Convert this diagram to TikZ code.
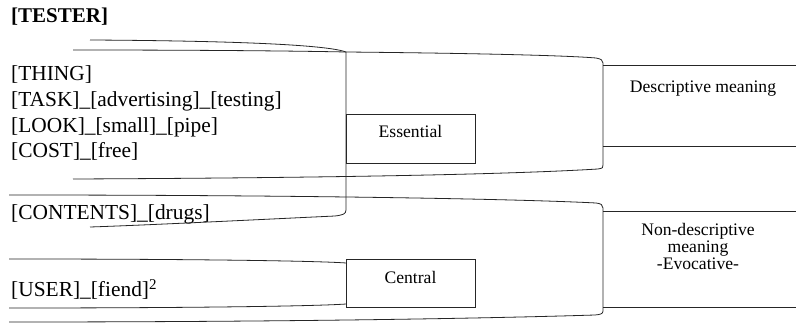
\documentclass[tikz,border=0pt]{standalone}
\usepackage{fontspec}
\setmainfont{Liberation Serif}
\begin{document}
\begin{tikzpicture}[x=1pt,y=-1pt,
  ln/.style={line width=0.8pt, draw=black!85},
  item/.style={anchor=base west, inner sep=0pt, font=\fontsize{21.4}{25}\selectfont},
  boxlbl/.style={anchor=base, inner sep=0pt, font=\fontsize{17.6}{17}\selectfont, align=center},
  sbox/.style={draw=black!85, line width=0.8pt, inner sep=0pt, anchor=north west},
  obox/.style={draw=none, inner sep=0pt, anchor=north west}]
\useasboundingbox (0,0) rectangle (796,323);
\fill[white] (0,0) rectangle (796,323);

% title and items
\node[item, font=\fontsize{21}{25}\selectfont\bfseries] (tester) at (11,23) {[TESTER]};
\node[item] (thing) at (11,81) {[THING]};
\node[item] (task) at (11,107) {[TASK]\_[advertising]\_[testing]};
\node[item] (look) at (11,133) {[LOOK]\_[small]\_[pipe]};
\node[item] (cost) at (11,158) {[COST]\_[free]};
\node[item] (contents) at (11,220) {[CONTENTS]\_[drugs]};
\node[item] (user) at (11,297) {[USER]\_[fiend]\textsuperscript{2}};

% boxes
\node[sbox, minimum width=129pt, minimum height=49pt] (ess) at (346,114) {};
\node[boxlbl] (esst) at (410.5,138) {Essential};
\node[sbox, minimum width=129pt, minimum height=48pt] (cen) at (346,259) {};
\node[boxlbl] (cent) at (410.5,284) {Central};

\node[obox, minimum width=193pt, minimum height=81pt] (desc) at (603,65) {};
\draw[ln] (desc.north west) -- (desc.north east) (desc.south west) -- (desc.south east);
\node[boxlbl] (desct) at (703,93) {Descriptive meaning};

\node[obox, minimum width=193pt, minimum height=96pt] (nond) at (603,211) {};
\draw[ln] (nond.north west) -- (nond.north east) (nond.south west) -- (nond.south east);
\node[boxlbl] (nondt) at (698,270) {Non-descriptive\\meaning\\-Evocative-};

% bracket 1 (to Essential)
\coordinate (a1) at (90,40);
\coordinate (a2) at (73,50);
\coordinate (aj) at (346,52);
\coordinate (ab) at (90,227);
\draw[ln] (a1) .. controls (260,41) and (330,46) .. (aj);
\draw[ln] (a2) .. controls (200,50) and (300,51) .. (aj);
\draw[ln] (aj) -- (346,210) .. controls (346,214) and (343,215) .. (335,216)
   .. controls (250,220) and (150,225) .. (ab);

% bracket 2 (to Descriptive meaning)
\coordinate (b2) at (73,179);
\draw[ln] (aj) .. controls (450,53) and (560,55) .. (596,58)
   .. controls (601,59) and (603,60) .. (603,63) -- (603,165)
   .. controls (603,168) .. (598,169)
   .. controls (500,175) and (300,178) .. (b2);

% bracket 3 (to Non-descriptive meaning)
\coordinate (c1) at (9,195);
\coordinate (c2) at (9,322);
\draw[ln] (c1) .. controls (300,195) and (520,199) .. (596,203)
   .. controls (601,203.5) and (603,205) .. (603,208) -- (603,311)
   .. controls (603,314) and (600,314.5) .. (595,315)
   .. controls (500,318) and (300,322) .. (c2);

% bracket 4 (to Central)
\coordinate (d1) at (9,259);
\coordinate (d2) at (9,308);
\coordinate (dt) at (346,263);
\coordinate (db) at (346,304);
\draw[ln] (d1) .. controls (200,259) and (320,261) .. (dt);
\draw[ln] (d2) .. controls (200,308) and (320,306) .. (db);
\end{tikzpicture}
\end{document}
